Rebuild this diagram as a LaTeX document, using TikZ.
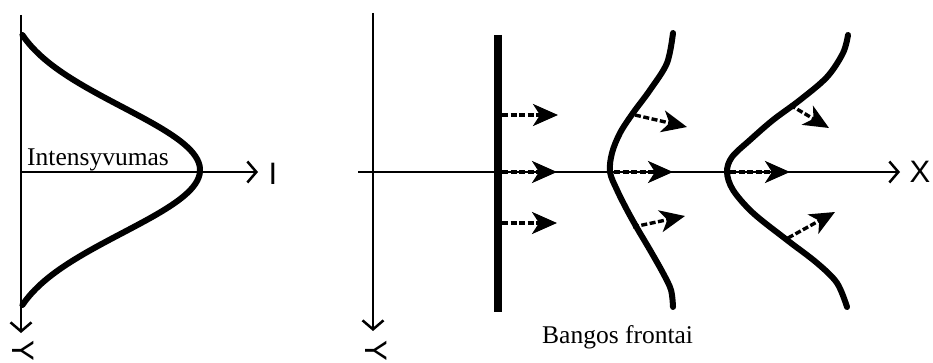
\documentclass[tikz,border=0pt]{standalone}
\usepackage{fontspec}
\setmainfont{Liberation Serif}
\newfontfamily\axisfont{Liberation Sans}
\usetikzlibrary{arrows.meta}

\tikzset{
  axis/.style={line width=2pt,-{Straight Barb[length=9pt,width=21pt,line width=2.5pt]}},
  front/.style={line width=6pt,line cap=round},
  ray/.style={line width=3.4pt,dash pattern=on 6pt off 2.5pt,-{Stealth[length=25pt,width=22pt,inset=7pt]}},
  axlabel/.style={font=\axisfont\fontsize{31}{31}\selectfont,inner sep=0pt},
  txt/.style={font=\fontsize{25.5}{25.5}\selectfont,inner sep=0pt}
}

\begin{document}
\begin{tikzpicture}[x=1pt,y=-1pt]
			\useasboundingbox (0,0) rectangle (933,363);
			
			% intensyvumo skirstinys
			\begin{scope}
				\coordinate (O1) at (21,172);
				\coordinate (Ytop1) at (21,15);
				\coordinate (Yend1) at (21,333);
				\coordinate (Iend) at (258,172);
				
				\draw[axis] (Ytop1)--(Yend1);
				\draw[axis] (O1)--(Iend);
				
				\draw[front,domain=35:305,samples=90,smooth]
				plot ({21+179*(exp(-0.5*((\x-170)/63)^2)-0.0934)/(1-0.0934)},\x);
				
				\node[axlabel] (lblI) at (273,174) {I};
				\node[axlabel,rotate=-90] (lblY1) at (23,351) {Y};
				\node[txt,anchor=base west] (intens) at (27,166) {Intensyvumas};
			\end{scope}
			
			% bangos frontai
			\begin{scope}
				\coordinate (Ytop2) at (373,13);
				\coordinate (Yend2) at (373,331);
				\coordinate (Xbeg) at (358,172);
				\coordinate (Xend) at (900,172);
				
				\draw[axis] (Ytop2)--(Yend2);
				\draw[axis] (Xbeg)--(Xend);
				
				\node[axlabel] (lblX) at (920,172) {X};
				\node[axlabel,rotate=-90] (lblY2) at (376,351) {Y};
				
				% plokscias frontas
				\coordinate (F1a) at (498,35);
				\coordinate (F1b) at (498,312);
				\draw[line width=8pt] (F1a)--(F1b);
				
				\coordinate (A1) at (502,115);
				\coordinate (B1) at (558,115);
				\coordinate (A2) at (502,172);
				\coordinate (B2) at (557,172);
				\coordinate (A3) at (502,223);
				\coordinate (B3) at (557,223);
				\draw[ray] (A1)--(B1);
				\draw[ray] (A2)--(B2);
				\draw[ray] (A3)--(B3);
				
				% antras frontas
				\draw[front] plot[smooth,tension=0.55] coordinates
				{(673,33) (667,63) (650,90) (633,113) (620,133) (612,153) (610,172)
				 (617,190) (627,210) (637,228) (650,250) (663,273) (671,290) (673,307)};
				
				\coordinate (C1) at (635,115);
				\coordinate (D1) at (687,127);
				\coordinate (C2) at (614,172);
				\coordinate (D2) at (673,172);
				\coordinate (C3) at (633,227);
				\coordinate (D3) at (685,216);
				\draw[ray] (C1)--(D1);
				\draw[ray] (C2)--(D2);
				\draw[ray] (C3)--(D3);
				
				% trecias frontas
				\draw[front] plot[smooth,tension=0.55] coordinates
				{(848,35) (843,53) (827,77) (800,100) (773,120) (750,140) (732,157) (727,172)
				 (733,190) (753,213) (787,240) (817,263) (837,283) (847,307)};
				
				\coordinate (E1) at (790,105);
				\coordinate (G1) at (829,128);
				\coordinate (E2) at (730,172);
				\coordinate (G2) at (790,172);
				\coordinate (E3) at (788,238);
				\coordinate (G3) at (835,212);
				\draw[ray] (E1)--(G1);
				\draw[ray] (E2)--(G2);
				\draw[ray] (E3)--(G3);
				
				\node[txt,anchor=base west] (fronts) at (542,343) {Bangos frontai};
			\end{scope}
			
		\end{tikzpicture}
\end{document}
